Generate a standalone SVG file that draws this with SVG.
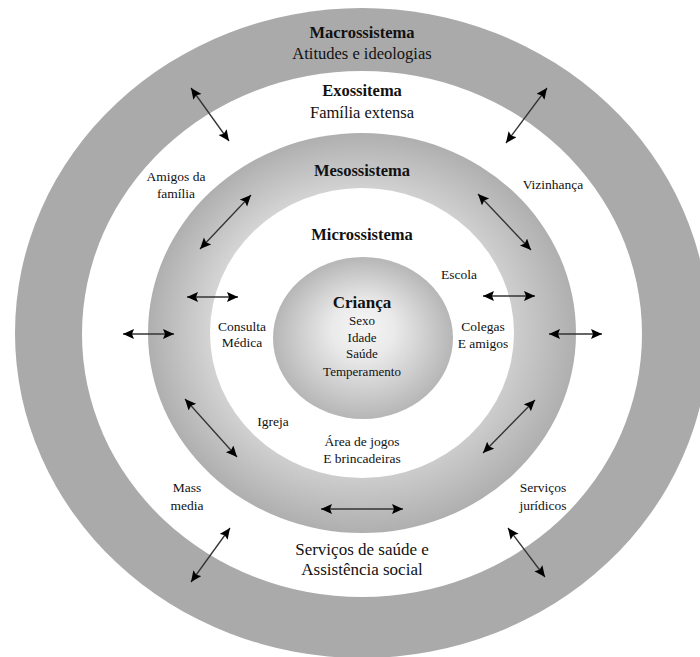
<svg xmlns="http://www.w3.org/2000/svg" width="700" height="657" viewBox="0 0 700 657">
<style>
text{font-family:"Liberation Serif","Times New Roman",serif;fill:#111;text-anchor:middle}
.t{font-size:16.5px;font-weight:bold}
.s{font-size:16.5px}
.l{font-size:13.5px}
.c{font-size:13px}
.big{font-size:17px}
.a{stroke:#333;stroke-width:1.3;fill:none;marker-start:url(#ah);marker-end:url(#ah)}
</style>
<defs>
<marker id="ah" markerUnits="userSpaceOnUse" markerWidth="12" markerHeight="11" refX="11" refY="5" orient="auto-start-reverse">
<path d="M0,0 L11,5 L0,10 L2,5 Z" fill="#000"/>
</marker>
<radialGradient id="gm" cx="0.5" cy="0.5" r="0.5" fx="0.45" fy="0.46">
<stop offset="0" stop-color="#eeeeee"/>
<stop offset="0.68" stop-color="#d4d4d4"/>
<stop offset="1" stop-color="#afafaf"/>
</radialGradient>
<radialGradient id="gc" cx="0.5" cy="0.5" r="0.5" fx="0.5" fy="0.42">
<stop offset="0" stop-color="#f6f6f6"/>
<stop offset="0.35" stop-color="#eaeaea"/>
<stop offset="1" stop-color="#b6b6b6"/>
</radialGradient>
</defs>
<rect width="700" height="657" fill="#fff"/>
<g id="macrossistema">
<ellipse cx="362" cy="333" rx="347" ry="325" fill="#aaaaaa"/>
<text class="t" x="362" y="37.5">Macrossistema</text>
<text class="s" x="362" y="58.5">Atitudes e ideologias</text>
</g>
<g id="exossistema">
<ellipse cx="362" cy="334" rx="280" ry="263" fill="#fff"/>
<text class="t" x="362" y="95.5">Exossitema</text>
<text class="s" x="362" y="117.5">Família extensa</text>
<text class="l" x="176" y="180.5">Amigos da</text>
<text class="l" x="176" y="197.5">família</text>
<text class="l" x="553" y="188.5">Vizinhança</text>
<text class="l" x="187" y="491.5">Mass</text>
<text class="l" x="187" y="509.5">media</text>
<text class="l" x="543" y="491.5">Serviços</text>
<text class="l" x="543" y="509.5">jurídicos</text>
<text class="big" x="362" y="555">Serviços de saúde e</text>
<text class="big" x="362" y="575">Assistência social</text>
</g>
<g id="mesossistema">
<ellipse cx="362" cy="333" rx="214" ry="200" fill="url(#gm)"/>
<text class="t" x="362" y="175.5">Mesossistema</text>
</g>
<g id="microssistema">
<ellipse cx="362" cy="333" rx="152" ry="145" fill="#fff"/>
<text class="t" x="362" y="239.5">Microssistema</text>
<text class="l" x="459" y="278.5">Escola</text>
<text class="l" x="242" y="330.5">Consulta</text>
<text class="l" x="242" y="347">Médica</text>
<text class="l" x="483" y="330.5">Colegas</text>
<text class="l" x="483" y="347.5">E amigos</text>
<text class="l" x="273" y="425.5">Igreja</text>
<text class="l" x="362" y="445.5">Área de jogos</text>
<text class="l" x="362" y="462.5">E brincadeiras</text>
</g>
<g id="crianca">
<ellipse cx="363" cy="338" rx="90" ry="81" fill="url(#gc)"/>
<text class="big" font-weight="bold" x="362" y="308">Criança</text>
<text class="c" x="362" y="324.5">Sexo</text>
<text class="c" x="362" y="341.5">Idade</text>
<text class="c" x="362" y="358">Saúde</text>
<text class="c" x="362" y="375.5">Temperamento</text>
</g>
<g id="connectors">
<line class="a" x1="191" y1="88" x2="229" y2="141"/>
<line class="a" x1="547" y1="88" x2="506" y2="143"/>
<line class="a" x1="200" y1="249" x2="251" y2="195"/>
<line class="a" x1="478" y1="194" x2="531" y2="250"/>
<line class="a" x1="187" y1="297" x2="238" y2="297"/>
<line class="a" x1="483" y1="296" x2="535" y2="296"/>
<line class="a" x1="123" y1="334" x2="174" y2="334"/>
<line class="a" x1="549" y1="334" x2="602" y2="334"/>
<line class="a" x1="185" y1="399" x2="237" y2="457"/>
<line class="a" x1="535" y1="400" x2="483" y2="453"/>
<line class="a" x1="321" y1="509" x2="403" y2="509"/>
<line class="a" x1="191" y1="582" x2="230" y2="528"/>
<line class="a" x1="508" y1="528" x2="545" y2="577"/>
</g>
</svg>
